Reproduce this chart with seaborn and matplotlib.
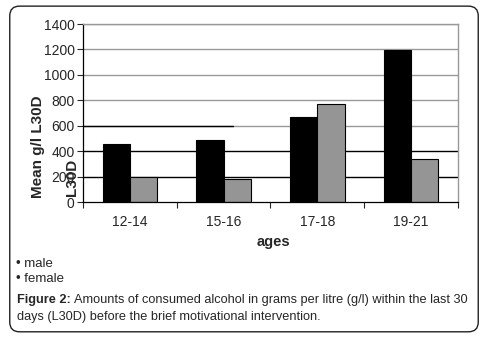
import pandas as pd
import numpy as np
import matplotlib.pyplot as plt
import seaborn as sns
from matplotlib.patches import FancyBboxPatch

# Data
ages = ['12-14', '15-16', '17-18', '19-21']
male = [456, 488, 666, 1198]
female = [194, 178, 768, 335]

df = pd.DataFrame({
    'ages': ages * 2,
    'value': male + female,
    'sex': ['male'] * 4 + ['female'] * 4,
})

sns.set_style('white')
plt.rcParams['font.family'] = ['Liberation Sans', 'DejaVu Sans']

fig = plt.figure(figsize=(4.88, 3.41), dpi=100)
ax = fig.add_axes([0.170, 0.4076, 0.7685, 0.522])

# outer rounded frame
frame = FancyBboxPatch((0.02, 0.027), 0.96, 0.955, boxstyle='round,pad=0,rounding_size=0.02',
                       transform=fig.transFigure, fill=False, edgecolor='#222222', lw=1.0,
                       mutation_aspect=488 / 341)
fig.patches.append(frame)

# gridlines (black low, grey high as in the original)
for v in [600, 800, 1000, 1200, 1400]:
    ax.axhline(v, color='#999999', lw=1.0, zorder=0)
ax.axhline(600, xmin=0, xmax=0.40, color='black', lw=1.0, zorder=0)
for v in [200, 400]:
    ax.axhline(v, color='black', lw=1.0, zorder=0)

sns.barplot(data=df, x='ages', y='value', hue='sex', palette=['black', '#959595'],
            edgecolor='black', linewidth=0.8, width=0.58, legend=False, ax=ax, zorder=2)

ax.set_ylim(0, 1400)
ax.set_xlim(-0.5, 3.5)
ax.set_yticks(range(0, 1401, 200))
ax.tick_params(axis='y', labelsize=10, length=4, width=0.8, direction='out', left=True, pad=2)
ax.set_xticks(range(4))
ax.set_xticklabels(ages)
ax.tick_params(axis='x', labelsize=10, length=0, pad=9)
ax.set_xticks(np.arange(-0.5, 4, 1), minor=True)
ax.tick_params(axis='x', which='minor', length=4, width=0.8, direction='out', bottom=True)

for s in ['left', 'bottom']:
    ax.spines[s].set_color('black')
    ax.spines[s].set_linewidth(0.9)
for s in ['top', 'right']:
    ax.spines[s].set_color('#999999')
    ax.spines[s].set_linewidth(1.0)

ax.set_ylabel('')
ax.set_xlabel('')
fig.text(38 / 488, 1 - 147 / 341, 'Mean g/l L30D', rotation=90, ha='center', va='center',
         fontsize=11, fontweight='bold')
fig.text(72 / 488, 1 - 177 / 341, 'L30D', rotation=90, ha='center', va='center',
         fontsize=11, fontweight='bold')
fig.text(273 / 488, 1 - 242 / 341, 'ages', ha='center', va='center', fontsize=10.5,
         fontweight='bold')

fig.text(16 / 488, 1 - 264 / 341, '• male', ha='left', va='center', fontsize=9.5)
fig.text(16 / 488, 1 - 279 / 341, '• female', ha='left', va='center', fontsize=9.5)

# caption: bold "Figure 2:" followed by normal text
fig_lbl = fig.text(17 / 488, 1 - 300 / 341, 'Figure 2:', ha='left', va='center',
                   fontsize=9.2, fontweight='bold')
fig.canvas.draw()
bb = fig_lbl.get_window_extent()
fig.text((bb.x1 + 3) / 488, 1 - 300 / 341,
         'Amounts of consumed alcohol in grams per litre (g/l) within the last 30',
         ha='left', va='center', fontsize=9.2)
fig.text(17 / 488, 1 - 317 / 341, 'days (L30D) before the brief motivational intervention.',
         ha='left', va='center', fontsize=9.2)

fig.savefig('out.png', dpi=100)
